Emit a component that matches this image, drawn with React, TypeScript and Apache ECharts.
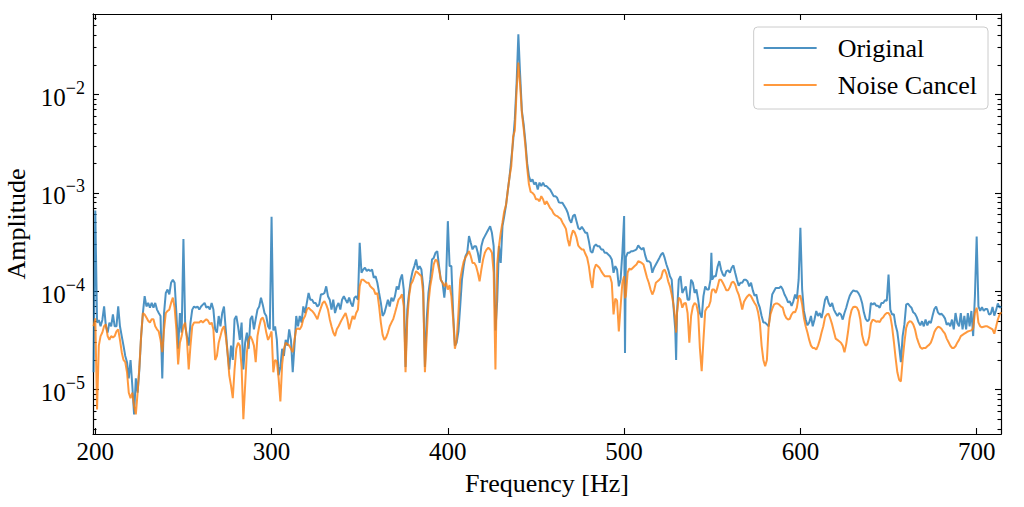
import React, { useEffect, useRef } from "react";
import * as echarts from "echarts";

const SERIF = "'Liberation Serif', 'DejaVu Serif', 'Times New Roman', serif";

const freqs = [
  199, 200, 201, 202, 203, 204, 205, 206, 207, 208, 209, 210, 211, 212, 213, 214, 215, 216, 217, 218,
  219, 220, 221, 222, 223, 224, 225, 226, 227, 228, 229, 230, 231, 232, 233, 234, 235, 236, 237, 238,
  239, 240, 241, 242, 243, 244, 245, 246, 247, 248, 249, 250, 251, 252, 253, 254, 255, 256, 257, 258,
  259, 260, 261, 262, 263, 264, 265, 266, 267, 268, 269, 270, 271, 272, 273, 274, 275, 276, 277, 278,
  279, 280, 281, 282, 283, 284, 285, 286, 287, 288, 289, 290, 291, 292, 293, 294, 295, 296, 297, 298,
  299, 300, 301, 302, 303, 304, 305, 306, 307, 308, 309, 310, 311, 312, 313, 314, 315, 316, 317, 318,
  319, 320, 321, 322, 323, 324, 325, 326, 327, 328, 329, 330, 331, 332, 333, 334, 335, 336, 337, 338,
  339, 340, 341, 342, 343, 344, 345, 346, 347, 348, 349, 350, 351, 352, 353, 354, 355, 356, 357, 358,
  359, 360, 361, 362, 363, 364, 365, 366, 367, 368, 369, 370, 371, 372, 373, 374, 375, 376, 377, 378,
  379, 380, 381, 382, 383, 384, 385, 386, 387, 388, 389, 390, 391, 392, 393, 394, 395, 396, 397, 398,
  399, 400, 401, 402, 403, 404, 405, 406, 407, 408, 409, 410, 411, 412, 413, 414, 415, 416, 417, 418,
  419, 420, 421, 422, 423, 424, 425, 426, 427, 428, 429, 430, 431, 432, 433, 434, 435, 436, 437, 438,
  439, 440, 441, 442, 443, 444, 445, 446, 447, 448, 449, 450, 451, 452, 453, 454, 455, 456, 457, 458,
  459, 460, 461, 462, 463, 464, 465, 466, 467, 468, 469, 470, 471, 472, 473, 474, 475, 476, 477, 478,
  479, 480, 481, 482, 483, 484, 485, 486, 487, 488, 489, 490, 491, 492, 493, 494, 495, 496, 497, 498,
  499, 500, 500.5, 501, 502, 503, 504, 505, 506, 507, 508, 509, 510, 511, 512, 513, 514, 515, 516, 517,
  518, 519, 520, 521, 522, 523, 524, 525, 526, 527, 528, 529, 529.5, 530, 531, 532, 533, 534, 535, 536,
  537, 538, 539, 540, 541, 542, 543, 544, 545, 546, 547, 548, 549, 549.5, 550, 551, 552, 553, 554, 555,
  556, 557, 558, 559, 560, 561, 562, 563, 564, 565, 566, 567, 568, 569, 570, 571, 572, 573, 574, 575,
  576, 577, 578, 579, 580, 581, 582, 583, 584, 585, 586, 587, 588, 589, 590, 591, 592, 593, 594, 595,
  596, 597, 598, 599, 600, 601, 602, 603, 604, 605, 606, 607, 608, 609, 610, 611, 612, 613, 614, 615,
  616, 617, 618, 619, 620, 621, 622, 623, 624, 625, 626, 627, 628, 629, 630, 631, 632, 633, 634, 635,
  636, 637, 638, 639, 640, 641, 642, 643, 644, 645, 646, 647, 648, 649, 650, 651, 652, 653, 654, 655,
  656, 657, 658, 659, 660, 661, 662, 663, 664, 665, 666, 667, 668, 669, 670, 671, 672, 673, 674, 675,
  676, 677, 678, 679, 680, 681, 682, 683, 684, 685, 686, 687, 688, 689, 690, 691, 692, 693, 694, 695,
  696, 697, 698, 699, 700, 701, 702, 703, 704, 705, 706, 707, 708, 709, 710, 711, 712, 713, 714,
];

const original = [
  1.5e-5, 6.6e-4, 4.8e-5, 5.1e-5, 4.4e-5, 5.1e-5, 7.0e-5, 4.4e-5, 3.8e-5, 4.8e-5, 4.4e-5, 5.8e-5, 4.4e-5, 4.4e-5, 7.0e-5, 4.4e-5, 3.5e-5, 2.8e-5, 2.2e-5, 1.9e-5,
  1.3e-5, 2.0e-5, 1.1e-5, 5.6e-6, 1.3e-5, 9.3e-6, 1.6e-5, 3.5e-5, 6.0e-5, 8.9e-5, 7.0e-5, 7.6e-5, 6.8e-5, 7.6e-5, 6.8e-5, 7.6e-5, 6.5e-5, 6.0e-5, 5.6e-5, 1.3e-5,
  6.0e-5, 9.6e-5, 1.04e-4, 9.3e-5, 1.22e-4, 1.31e-4, 1.22e-4, 6.0e-5, 2.6e-5, 6.0e-5, 3.8e-5, 3.4e-4, 4.4e-5, 3.5e-5, 2.8e-5, 4.8e-5, 6.5e-5, 7.0e-5, 6.8e-5, 7.0e-5,
  6.5e-5, 7.0e-5, 7.3e-5, 7.6e-5, 6.8e-5, 7.0e-5, 6.5e-5, 7.6e-5, 6.5e-5, 4.1e-5, 3.8e-5, 5.6e-5, 4.4e-5, 6.0e-5, 7.0e-5, 4.1e-5, 2.4e-5, 1.6e-5, 2.8e-5, 2.0e-5,
  5.2e-5, 5.6e-5, 4.4e-5, 3.2e-5, 4.8e-5, 1.6e-5, 3.0e-5, 3.8e-5, 2.6e-5, 5.2e-5, 5.6e-5, 4.1e-5, 5.2e-5, 6.5e-5, 7.0e-5, 8.6e-5, 7.3e-5, 6.0e-5, 5.6e-5, 4.4e-5,
  4.1e-5, 5.7e-4, 4.0e-5, 4.4e-5, 3.2e-5, 1.4e-5, 1.7e-5, 2.6e-5, 2.2e-5, 3.2e-5, 2.8e-5, 4.1e-5, 3.2e-5, 1.5e-5, 2.8e-5, 5.6e-5, 4.4e-5, 5.6e-5, 4.8e-5, 7.0e-5,
  6.0e-5, 7.6e-5, 9.6e-5, 8.2e-5, 8.2e-5, 7.6e-5, 7.6e-5, 7.0e-5, 7.3e-5, 9.3e-5, 9.3e-5, 9.6e-5, 1.12e-4, 8.9e-5, 8.2e-5, 6.5e-5, 8.2e-5, 6.0e-5, 7.0e-5, 7.6e-5,
  6.5e-5, 8.2e-5, 8.9e-5, 8.2e-5, 7.6e-5, 8.6e-5, 7.6e-5, 7.0e-5, 8.6e-5, 8.9e-5, 8.2e-5, 3.1e-4, 1.54e-4, 1.66e-4, 1.73e-4, 1.6e-4, 1.66e-4, 1.6e-4, 1.66e-4, 1.37e-4,
  1.42e-4, 1.22e-4, 9.6e-5, 7.6e-5, 5.6e-5, 6.0e-5, 7.0e-5, 8.2e-5, 7.0e-5, 8.6e-5, 7.9e-5, 8.9e-5, 1.12e-4, 1.04e-4, 1.31e-4, 1.48e-4, 1.04e-4, 1.7e-5, 6.5e-5, 9.6e-5,
  1.31e-4, 1.6e-4, 1.8e-4, 2.1e-4, 1.66e-4, 1.8e-4, 1.66e-4, 1.12e-4, 1.7e-5, 5.2e-5, 9.6e-5, 1.31e-4, 2.1e-4, 2.18e-4, 2.46e-4, 2.55e-4, 1.8e-4, 1.31e-4, 1.22e-4, 8.6e-5,
  1.31e-4, 5.15e-4, 1.8e-4, 1.8e-4, 6.0e-5, 2.8e-5, 3.0e-5, 3.9e-5, 7.0e-5, 1.31e-4, 1.8e-4, 2.27e-4, 2.46e-4, 3.63e-4, 3.1e-4, 2.66e-4, 2.87e-4, 2.87e-4, 2.46e-4, 1.94e-4,
  2.87e-4, 3.36e-4, 3.63e-4, 3.92e-4, 4.24e-4, 4.58e-4, 3.92e-4, 2.87e-4, 4.0e-5, 8.0e-5, 2.87e-4, 1.94e-4, 4.58e-4, 5.8e-4, 7.5e-4, 1.05e-3, 1.45e-3, 2.2e-3, 3.3e-3, 5.6e-3,
  1.3e-2, 4.08e-2, 1.6e-2, 6.8e-3, 5.0e-3, 3.3e-3, 2.0e-3, 1.48e-3, 1.3e-3, 1.37e-3, 1.22e-3, 1.27e-3, 1.08e-3, 1.27e-3, 1.17e-3, 1.27e-3, 1.17e-3, 1.17e-3, 1.12e-3, 1.08e-3,
  1.0e-3, 9.25e-4, 9.25e-4, 8.9e-4, 8.0e-4, 7.9e-4, 7.9e-4, 7.4e-4, 6.9e-4, 6.27e-4, 5.36e-4, 4.96e-4, 5.8e-4, 6.0e-4, 5.15e-4, 4.4e-4, 4.24e-4, 4.5e-4, 4.24e-4, 3.92e-4,
  3.92e-4, 3.23e-4, 2.55e-4, 2.46e-4, 2.87e-4, 2.98e-4, 2.87e-4, 2.87e-4, 2.66e-4, 2.66e-4, 2.46e-4, 2.46e-4, 2.36e-4, 2.27e-4, 2.1e-4, 1.54e-4, 1.8e-4, 1.66e-4, 1.12e-4, 1.31e-4,
  2.46e-4, 5.8e-4, 2.36e-5, 2.2e-4, 2.46e-4, 2.46e-4, 2.55e-4, 2.55e-4, 2.6e-4, 2.66e-4, 2.92e-4, 2.76e-4, 2.66e-4, 2.76e-4, 2.3e-4, 2.02e-4, 2.02e-4, 1.94e-4, 1.54e-4, 1.73e-4,
  1.87e-4, 2.02e-4, 2.18e-4, 2.36e-4, 2.46e-4, 2.18e-4, 1.87e-4, 1.66e-4, 1.42e-4, 1.31e-4, 7.0e-5, 4.1e-5, 2.0e-5, 6.0e-5, 1.31e-4, 1.42e-4, 9.6e-5, 1.04e-4, 1.12e-4, 8.2e-5,
  8.2e-5, 1.31e-4, 1.22e-4, 9.6e-5, 1.04e-4, 8.2e-5, 6.0e-5, 5.4e-5, 8.9e-5, 1.12e-4, 1.04e-4, 1.04e-4, 1.31e-4, 2.46e-4, 1.31e-4, 1.42e-4, 1.42e-4, 1.77e-4, 2.02e-4, 1.66e-4,
  1.48e-4, 1.42e-4, 1.6e-4, 1.63e-4, 1.54e-4, 1.73e-4, 1.83e-4, 1.54e-4, 1.31e-4, 1.14e-4, 1.22e-4, 1.22e-4, 1.31e-4, 1.31e-4, 1.26e-4, 1.12e-4, 1.22e-4, 1.02e-4, 9.0e-5, 9.25e-5,
  7.6e-5, 6.8e-5, 5.6e-5, 4.8e-5, 4.8e-5, 4.6e-5, 4.4e-5, 6.5e-5, 9.25e-5, 1.0e-4, 1.08e-4, 1.08e-4, 1.08e-4, 1.12e-4, 1.04e-4, 9.25e-5, 8.55e-5, 7.7e-5, 7.9e-5, 7.1e-5,
  7.9e-5, 9.25e-5, 8.35e-5, 1.31e-4, 4.41e-4, 1.04e-4, 6.3e-5, 5.15e-5, 4.5e-5, 4.8e-5, 5.6e-5, 4.4e-5, 5.15e-5, 6.3e-5, 5.6e-5, 6.0e-5, 5.35e-5, 6.5e-5, 8.2e-5, 8.9e-5,
  7.6e-5, 7.0e-5, 7.6e-5, 6.5e-5, 6.0e-5, 5.6e-5, 6.0e-5, 5.8e-5, 5.15e-5, 6.0e-5, 6.8e-5, 7.9e-5, 9.0e-5, 9.7e-5, 1.02e-4, 1.0e-4, 1.0e-4, 9.5e-5, 8.75e-5, 7.6e-5,
  6.1e-5, 5.25e-5, 4.95e-5, 5.15e-5, 7.6e-5, 7.3e-5, 7.6e-5, 7.1e-5, 7.1e-5, 6.8e-5, 7.6e-5, 7.6e-5, 8.1e-5, 8.0e-5, 1.48e-4, 6.5e-5, 5.8e-5, 5.85e-5, 4.5e-5, 3.85e-5,
  2.76e-5, 1.9e-5, 3.5e-5, 4.6e-5, 7.3e-5, 7.5e-5, 7.1e-5, 6.8e-5, 6.1e-5, 5.9e-5, 5.45e-5, 4.85e-5, 4.5e-5, 4.95e-5, 4.4e-5, 5.15e-5, 4.5e-5, 4.95e-5, 4.76e-5, 5.65e-5,
  6.6e-5, 7.0e-5, 6.1e-5, 5.8e-5, 5.9e-5, 5.65e-5, 5.3e-5, 4.55e-5, 4.76e-5, 4.4e-5, 5.15e-5, 4.1e-5, 6.0e-5, 4.76e-5, 4.4e-5, 6.0e-5, 4.1e-5, 5.6e-5, 4.1e-5, 6.0e-5,
  4.4e-5, 6.3e-5, 3.5e-5, 8.9e-5, 3.6e-4, 7.0e-5, 6.3e-5, 6.9e-5, 6.3e-5, 6.6e-5, 6.6e-5, 5.8e-5, 5.9e-5, 6.9e-5, 5.65e-5, 6.4e-5, 7.5e-5, 6.8e-5, 7.0e-5,
];

const noiseCancel = [
  4.4e-5, 5.3e-5, 6.3e-6, 2.8e-5, 3.5e-5, 3.8e-5, 4.4e-5, 4.6e-5, 3.5e-5, 3.2e-5, 3.5e-5, 3.4e-5, 3.5e-5, 3.9e-5, 4.1e-5, 3.2e-5, 2.4e-5, 2.0e-5, 1.9e-5, 1.5e-5,
  9.3e-6, 8.2e-6, 9.3e-6, 6.8e-6, 5.6e-6, 9.3e-6, 1.7e-5, 3.5e-5, 6.0e-5, 5.8e-5, 5.4e-5, 5.0e-5, 4.8e-5, 5.2e-5, 5.2e-5, 4.4e-5, 4.1e-5, 3.9e-5, 3.2e-5, 2.4e-5,
  4.1e-5, 6.0e-5, 6.3e-5, 6.5e-5, 7.6e-5, 8.6e-5, 6.8e-5, 4.1e-5, 1.8e-5, 3.0e-5, 3.5e-5, 4.4e-5, 4.8e-5, 3.2e-5, 1.6e-5, 2.8e-5, 4.4e-5, 4.8e-5, 4.8e-5, 4.8e-5,
  4.8e-5, 5.0e-5, 4.8e-5, 5.0e-5, 5.2e-5, 5.0e-5, 4.6e-5, 4.8e-5, 4.1e-5, 2.0e-5, 2.2e-5, 3.0e-5, 3.5e-5, 4.1e-5, 4.4e-5, 3.5e-5, 2.4e-5, 1.4e-5, 1.1e-5, 8.2e-6,
  1.6e-5, 2.6e-5, 3.0e-5, 2.8e-5, 1.7e-5, 5.0e-6, 1.1e-5, 2.4e-5, 3.2e-5, 3.5e-5, 3.2e-5, 2.8e-5, 1.9e-5, 3.5e-5, 4.4e-5, 5.2e-5, 5.4e-5, 4.8e-5, 3.8e-5, 3.2e-5,
  3.5e-5, 3.9e-5, 1.5e-5, 2.0e-5, 1.95e-5, 1.3e-5, 7.6e-6, 1.8e-5, 2.6e-5, 3.0e-5, 2.9e-5, 2.8e-5, 2.6e-5, 2.4e-5, 3.2e-5, 4.1e-5, 4.2e-5, 4.1e-5, 4.4e-5, 5.2e-5,
  5.6e-5, 6.5e-5, 6.8e-5, 6.5e-5, 6.3e-5, 6.0e-5, 5.6e-5, 5.2e-5, 6.0e-5, 6.8e-5, 7.6e-5, 7.9e-5, 7.3e-5, 6.5e-5, 5.2e-5, 4.4e-5, 3.8e-5, 3.5e-5, 4.1e-5, 4.4e-5,
  4.8e-5, 5.2e-5, 5.6e-5, 6.0e-5, 5.2e-5, 4.1e-5, 4.8e-5, 5.6e-5, 5.2e-5, 6.0e-5, 6.5e-5, 1.12e-4, 1.31e-4, 1.31e-4, 1.26e-4, 1.22e-4, 1.22e-4, 1.12e-4, 1.08e-4, 1.04e-4,
  9.3e-5, 9.6e-5, 7.0e-5, 4.8e-5, 3.6e-5, 3.2e-5, 3.4e-5, 3.8e-5, 4.4e-5, 4.8e-5, 5.2e-5, 6.0e-5, 7.0e-5, 8.2e-5, 8.6e-5, 9.3e-5, 7.0e-5, 1.5e-5, 5.2e-5, 8.9e-5,
  1.17e-4, 1.26e-4, 1.42e-4, 1.6e-4, 1.54e-4, 1.48e-4, 1.42e-4, 9.6e-5, 1.5e-5, 3.5e-5, 7.6e-5, 1.12e-4, 1.42e-4, 1.87e-4, 2.1e-4, 2.02e-4, 1.66e-4, 1.31e-4, 1.22e-4, 1.12e-4,
  1.22e-4, 1.04e-4, 1.15e-4, 8.9e-5, 5.2e-5, 2.6e-5, 3.2e-5, 6.0e-5, 1.31e-4, 1.66e-4, 2.0e-4, 2.2e-4, 2.36e-4, 2.55e-4, 2.27e-4, 1.94e-4, 1.94e-4, 1.8e-4, 1.54e-4, 1.26e-4,
  1.66e-4, 2.1e-4, 2.46e-4, 2.66e-4, 2.76e-4, 2.66e-4, 2.46e-4, 1.54e-4, 1.6e-5, 1.9e-4, 2.87e-4, 3.92e-4, 5.0e-4, 6.5e-4, 7.5e-4, 1.05e-3, 1.45e-3, 1.87e-3, 3.7e-3, 4.3e-3,
  1.1e-2, 2.1e-2, 1.25e-2, 6.5e-3, 4.5e-3, 3.0e-3, 1.8e-3, 1.22e-3, 1.02e-3, 1.0e-3, 9.5e-4, 8.6e-4, 8.6e-4, 8.2e-4, 9.25e-4, 8.6e-4, 7.6e-4, 8.2e-4, 7.6e-4, 7.0e-4,
  6.7e-4, 6.15e-4, 5.9e-4, 5.8e-4, 5.6e-4, 5.45e-4, 5.0e-4, 4.65e-4, 4.3e-4, 3.36e-4, 2.87e-4, 3.63e-4, 4.15e-4, 3.95e-4, 3.5e-4, 2.9e-4, 2.76e-4, 2.66e-4, 2.66e-4, 2.4e-4,
  2.2e-4, 1.8e-4, 1.31e-4, 1.08e-4, 1.66e-4, 1.87e-4, 1.8e-4, 1.73e-4, 1.6e-4, 1.5e-4, 1.42e-4, 1.42e-4, 1.42e-4, 1.42e-4, 1.22e-4, 5.8e-5, 8.4e-5, 8.0e-5, 3.9e-5, 7.0e-5,
  1.22e-4, 1.42e-4, 8.5e-5, 9.0e-5, 1.55e-4, 1.7e-4, 1.66e-4, 1.73e-4, 1.8e-4, 1.87e-4, 2.02e-4, 1.98e-4, 1.94e-4, 1.87e-4, 1.6e-4, 1.37e-4, 1.22e-4, 1.04e-4, 9.25e-5, 1.02e-4,
  1.22e-4, 1.26e-4, 1.31e-4, 1.37e-4, 1.6e-4, 1.66e-4, 1.5e-4, 1.26e-4, 1.12e-4, 9.25e-5, 7.3e-5, 5.2e-5, 3.8e-5, 6.0e-5, 8.6e-5, 8.2e-5, 6.8e-5, 7.5e-5, 7.6e-5, 6.0e-5,
  3.0e-5, 5.6e-5, 7.0e-5, 7.6e-5, 7.3e-5, 6.0e-5, 2.6e-5, 1.54e-5, 3.2e-5, 6.3e-5, 6.8e-5, 7.0e-5, 7.9e-5, 9.6e-5, 1.04e-4, 1.04e-4, 9.6e-5, 1.1e-4, 1.31e-4, 1.31e-4,
  1.22e-4, 1.12e-4, 1.02e-4, 1.02e-4, 1.1e-4, 1.22e-4, 1.25e-4, 1.17e-4, 1.02e-4, 9.25e-5, 7.9e-5, 6.5e-5, 7.8e-5, 8.4e-5, 8.9e-5, 9.25e-5, 8.9e-5, 8.2e-5, 7.6e-5, 7.1e-5,
  6.1e-5, 4.8e-5, 2.8e-5, 2.0e-5, 1.73e-5, 2.0e-5, 4.4e-5, 5.8e-5, 6.6e-5, 7.3e-5, 7.5e-5, 7.5e-5, 7.3e-5, 7.0e-5, 6.8e-5, 5.8e-5, 5.35e-5, 5.15e-5, 5.25e-5, 5.8e-5,
  6.15e-5, 6.1e-5, 6.8e-5, 8.9e-5, 9.0e-5, 7.3e-5, 5.35e-5, 4.4e-5, 3.8e-5, 3.2e-5, 2.8e-5, 2.65e-5, 2.65e-5, 2.55e-5, 2.8e-5, 3.2e-5, 3.8e-5, 4.4e-5, 5.45e-5, 5.8e-5,
  5.9e-5, 5.25e-5, 4.6e-5, 3.9e-5, 3.3e-5, 3.2e-5, 3.1e-5, 3.0e-5, 2.8e-5, 2.4e-5, 2.9e-5, 3.85e-5, 5.35e-5, 6.4e-5, 6.9e-5, 6.95e-5, 6.85e-5, 6.3e-5, 5.15e-5, 3.6e-5,
  3.05e-5, 2.8e-5, 2.9e-5, 3.4e-5, 4.7e-5, 5.15e-5, 5.05e-5, 4.9e-5, 4.95e-5, 4.85e-5, 5.25e-5, 5.45e-5, 5.8e-5, 6.0e-5, 6.0e-5, 5.6e-5, 4.4e-5, 3.1e-5, 2.1e-5, 1.5e-5,
  1.26e-5, 1.21e-5, 2.0e-5, 3.0e-5, 4.24e-5, 4.76e-5, 4.95e-5, 4.9e-5, 4.6e-5, 4.1e-5, 3.4e-5, 3.0e-5, 2.7e-5, 2.6e-5, 2.65e-5, 2.65e-5, 2.76e-5, 2.85e-5, 3.0e-5, 3.35e-5,
  3.85e-5, 4.15e-5, 4.35e-5, 4.3e-5, 4.15e-5, 3.9e-5, 3.7e-5, 3.3e-5, 3.05e-5, 2.8e-5, 2.65e-5, 2.65e-5, 2.76e-5, 3.0e-5, 3.2e-5, 3.5e-5, 3.6e-5, 3.7e-5, 3.8e-5, 3.9e-5,
  3.95e-5, 4.0e-5, 4.2e-5, 6.0e-5, 6.8e-5, 4.8e-5, 4.4e-5, 4.3e-5, 4.35e-5, 4.4e-5, 4.4e-5, 4.3e-5, 4.2e-5, 4.1e-5, 3.7e-5, 4.35e-5, 5.15e-5, 5.8e-5, 6.1e-5,
];

const seriesNames = ["Original", "Noise Cancel"];
const seriesColors = ["#1f77b4", "#ff7f0e"];

const xTicks = [200, 300, 400, 500, 600, 700];
const yMajorTicks = [1e-5, 1e-4, 1e-3, 1e-2];
const yMinorTicks = [
  4e-6, 5e-6, 6e-6, 7e-6, 8e-6, 9e-6,
  2e-5, 3e-5, 4e-5, 5e-5, 6e-5, 7e-5, 8e-5, 9e-5,
  2e-4, 3e-4, 4e-4, 5e-4, 6e-4, 7e-4, 8e-4, 9e-4,
  2e-3, 3e-3, 4e-3, 5e-3, 6e-3, 7e-3, 8e-3, 9e-3,
  2e-2, 3e-2, 4e-2, 5e-2, 6e-2,
];

const X_MIN = 198.7;
const X_MAX = 713.8;
const Y_MIN = 3.54e-6;
const Y_MAX = 6.56e-2;

export default function App() {
  const ref = useRef<HTMLDivElement>(null);

  useEffect(() => {
    if (!ref.current) return;
    const chart = echarts.init(ref.current, null, { renderer: "svg" });

    const axisLine = { show: true, onZero: false, lineStyle: { color: "#000", width: 1.1 } };
    const tickStyle = { color: "#000", width: 1.1 };

    const xBase = {
      type: "value",
      min: X_MIN,
      max: X_MAX,
      splitLine: { show: false },
      axisLine,
    };
    const yBase = {
      type: "log",
      logBase: 10,
      min: Y_MIN,
      max: Y_MAX,
      splitLine: { show: false },
      minorSplitLine: { show: false },
      axisLine,
    };

    const toPairs = (vals: number[]) => freqs.map((f, i) => [f, vals[i]]);

    const option = {
      animation: false,
      grid: {
        left: 93,
        right: 23,
        top: 14,
        bottom: 73,
        containLabel: false,
        outerBoundsMode: "none",
      },
      xAxis: [
        {
          ...xBase,
          position: "bottom",
          axisTick: { show: true, inside: true, length: 6, customValues: xTicks, lineStyle: tickStyle },
          axisLabel: {
            show: true,
            customValues: xTicks,
            margin: 5,
            fontSize: 25,
            fontFamily: SERIF,
            color: "#000",
          },
          name: "Frequency [Hz]",
          nameLocation: "middle",
          nameGap: 36,
          nameTextStyle: { fontSize: 26, fontFamily: SERIF, color: "#000" },
        },
        {
          ...xBase,
          position: "top",
          axisTick: { show: true, inside: true, length: 6, customValues: xTicks, lineStyle: tickStyle },
          axisLabel: { show: false },
        },
      ],
      yAxis: [
        {
          ...yBase,
          position: "left",
          axisTick: { show: true, inside: true, length: 6, customValues: yMajorTicks, lineStyle: tickStyle },
          axisLabel: {
            show: true,
            customValues: yMajorTicks,
            margin: 8,
            formatter: (v: number) => {
              const e = Math.round(Math.log10(v));
              return "{b|10}{s|" + (e < 0 ? "\u2212" : "") + Math.abs(e) + "}";
            },
            rich: {
              b: { fontSize: 25, fontFamily: SERIF, color: "#000", padding: [6, 0, 0, 0] },
              s: { fontSize: 18, fontFamily: SERIF, color: "#000", verticalAlign: "top" },
            },
          },
          name: "Amplitude",
          nameLocation: "middle",
          nameGap: 63,
          nameRotate: 90,
          nameTextStyle: { fontSize: 26, fontFamily: SERIF, color: "#000" },
        },
        {
          ...yBase,
          position: "left",
          axisTick: { show: true, inside: true, length: 3.5, customValues: yMinorTicks, lineStyle: tickStyle },
          axisLabel: { show: false },
        },
        {
          ...yBase,
          position: "right",
          axisTick: { show: true, inside: true, length: 6, customValues: yMajorTicks, lineStyle: tickStyle },
          axisLabel: { show: false },
        },
        {
          ...yBase,
          position: "right",
          axisTick: { show: true, inside: true, length: 3.5, customValues: yMinorTicks, lineStyle: tickStyle },
          axisLabel: { show: false },
        },
      ],
      legend: {
        orient: "vertical",
        right: 36,
        top: 27,
        padding: [8, 11, 11, 10],
        icon: "rect",
        itemWidth: 53,
        itemHeight: 2,
        itemGap: 11,
        backgroundColor: "rgba(255,255,255,0.8)",
        borderColor: "#cccccc",
        borderWidth: 1,
        borderRadius: 4,
        itemStyle: { opacity: 0.8 },
        textStyle: { fontSize: 26, fontFamily: SERIF, color: "#000", padding: [0, 0, 0, 16] },
        data: seriesNames,
      },
      series: [
        {
          name: seriesNames[0],
          type: "line",
          xAxisIndex: 0,
          yAxisIndex: 0,
          data: toPairs(original),
          symbol: "none",
          showSymbol: false,
          lineStyle: { color: seriesColors[0], width: 2, opacity: 0.8 },
          itemStyle: { color: seriesColors[0] },
          z: 2,
        },
        {
          name: seriesNames[1],
          type: "line",
          xAxisIndex: 0,
          yAxisIndex: 0,
          data: toPairs(noiseCancel),
          symbol: "none",
          showSymbol: false,
          lineStyle: { color: seriesColors[1], width: 2, opacity: 0.8 },
          itemStyle: { color: seriesColors[1] },
          z: 3,
        },
      ],
    };

    chart.setOption(option as any);
    return () => chart.dispose();
  }, []);

  return <div ref={ref} style={{ width: 1024, height: 507, position: "absolute", left: 0, top: 0 }} />;
}
